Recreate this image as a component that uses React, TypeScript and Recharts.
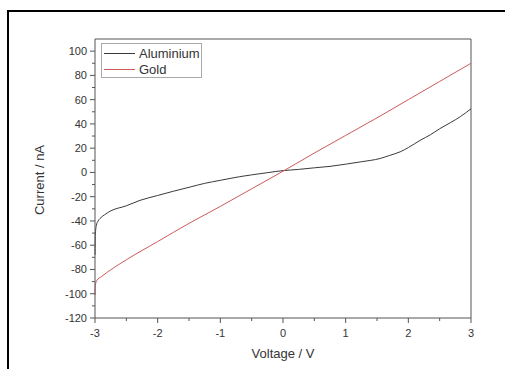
import React from "react";
import { LineChart, Line, XAxis, YAxis, ReferenceLine } from "recharts";

// I-V curves
const aluminium = [
  { v: -3.0, i: -68 },
  { v: -2.995, i: -52 },
  { v: -2.98, i: -44 },
  { v: -2.95, i: -40 },
  { v: -2.92, i: -38 },
  { v: -2.85, i: -35 },
  { v: -2.76, i: -32 },
  { v: -2.5, i: -27.5 },
  { v: -2.28, i: -23 },
  { v: -2.0, i: -19 },
  { v: -1.75, i: -15.5 },
  { v: -1.48, i: -12 },
  { v: -1.25, i: -9 },
  { v: -1.0, i: -6.5 },
  { v: -0.69, i: -3.5 },
  { v: -0.5, i: -2 },
  { v: -0.25, i: -0.2 },
  { v: 0.0, i: 1.5 },
  { v: 0.25, i: 2.5 },
  { v: 0.5, i: 3.8 },
  { v: 0.75, i: 5 },
  { v: 1.0, i: 6.8 },
  { v: 1.25, i: 8.8 },
  { v: 1.55, i: 11.5 },
  { v: 1.7, i: 14 },
  { v: 1.87, i: 17 },
  { v: 2.0, i: 20.5 },
  { v: 2.19, i: 26.5 },
  { v: 2.35, i: 31 },
  { v: 2.5, i: 36 },
  { v: 2.67, i: 41 },
  { v: 2.83, i: 46 },
  { v: 3.0, i: 52.5 },
];

const gold = [
  { v: -3.0, i: -101 },
  { v: -2.995, i: -93 },
  { v: -2.97, i: -89 },
  { v: -2.9, i: -86 },
  { v: -2.5, i: -72 },
  { v: -2.0, i: -57 },
  { v: -1.5, i: -42 },
  { v: -1.0, i: -28 },
  { v: -0.5, i: -13.5 },
  { v: 0.0, i: 1 },
  { v: 0.5, i: 16 },
  { v: 1.0, i: 30.5 },
  { v: 1.5, i: 45 },
  { v: 2.0, i: 60 },
  { v: 2.5, i: 75 },
  { v: 3.0, i: 90 },
];

const xTicks = [-3, -2.5, -2, -1.5, -1, -0.5, 0, 0.5, 1, 1.5, 2, 2.5, 3];
const yTicks = [
  -120, -110, -100, -90, -80, -70, -60, -50, -40, -30, -20, -10, 0, 10, 20, 30,
  40, 50, 60, 70, 80, 90, 100,
];
const xLabels = [-3, -2, -1, 0, 1, 2, 3];
const yLabels = [-120, -100, -80, -60, -40, -20, 0, 20, 40, 60, 80, 100];

const series = [
  { name: "Aluminium", color: "#3a3a3a", data: aluminium },
  { name: "Gold", color: "#cf5a5a", data: gold },
];

const axisColor = "#555";
const textColor = "#333";
const font = "'Liberation Sans', Arial, sans-serif";

function XTick(props: any) {
  const { x, y, payload } = props;
  const major = xLabels.includes(payload.value);
  return (
    <g>
      <line x1={x} y1={y} x2={x} y2={y + (major ? 5 : 3)} stroke={axisColor} />
      {major && (
        <text x={x} y={y + 19} textAnchor="middle" fontSize={11} fill={textColor} fontFamily={font}>
          {payload.value}
        </text>
      )}
    </g>
  );
}

function YTick(props: any) {
  const { x, y, payload } = props;
  const major = yLabels.includes(payload.value);
  return (
    <g>
      <line x1={x} y1={y} x2={x - (major ? 5 : 3)} y2={y} stroke={axisColor} />
      {major && (
        <text x={x - 8} y={y + 4} textAnchor="end" fontSize={11} fill={textColor} fontFamily={font}>
          {payload.value}
        </text>
      )}
    </g>
  );
}

function LegendBox() {
  return (
    <div
      style={{
        position: "absolute",
        left: 101,
        top: 43,
        border: "1px solid #aaa",
        width: 101,
        height: 35,
        padding: "1px 0 0 2px",
        boxSizing: "border-box",
        background: "#fff",
        fontFamily: font,
        fontSize: 13,
        color: textColor,
      }}
    >
      {series.map((s) => (
        <div key={s.name} style={{ display: "flex", alignItems: "center", height: 16 }}>
          <span style={{ width: 31, height: 1, background: s.color, marginRight: 4 }} />
          {s.name}
        </div>
      ))}
    </div>
  );
}

export default function App() {
  return (
    <div style={{ position: "absolute", left: 0, top: 0, width: 505, height: 369, background: "#fff" }}>
      <div
        style={{
          position: "absolute",
          left: 7,
          top: 10,
          width: 498,
          height: 359,
          borderTop: "2px solid #000",
          borderLeft: "2px solid #000",
          boxSizing: "border-box",
        }}
      />
      <div style={{ position: "absolute", left: 0, top: 0 }}>
        <LineChart width={505} height={369} margin={{ top: 39, right: 34, left: 0, bottom: 0 }}>
          <XAxis
            type="number"
            dataKey="v"
            domain={[-3, 3]}
            ticks={xTicks}
            interval={0}
            height={51}
            tickSize={0}
            tickMargin={0}
            tickLine={false}
            tick={<XTick />}
            axisLine={{ stroke: axisColor }}
            allowDuplicatedCategory={false}
          />
          <YAxis
            type="number"
            dataKey="i"
            domain={[-120, 110]}
            ticks={yTicks}
            interval={0}
            width={95}
            tickSize={0}
            tickMargin={0}
            tickLine={false}
            tick={<YTick />}
            axisLine={{ stroke: axisColor }}
            allowDataOverflow
          />
          <ReferenceLine x={3} stroke={axisColor} />
          <ReferenceLine y={110} stroke={axisColor} />
          {series.map((s) => (
            <Line
              key={s.name}
              data={s.data}
              dataKey="i"
              name={s.name}
              type="monotone"
              stroke={s.color}
              strokeWidth={1}
              dot={false}
              isAnimationActive={false}
            />
          ))}
        </LineChart>
      </div>
      <LegendBox />
      <div
        style={{
          position: "absolute",
          left: 39,
          top: 180,
          transform: "translate(-50%, -50%) rotate(-90deg)",
          whiteSpace: "nowrap",
          fontFamily: font,
          fontSize: 13,
          color: textColor,
        }}
      >
        Current / nA
      </div>
      <div
        style={{
          position: "absolute",
          left: 283,
          top: 353,
          transform: "translate(-50%, -50%)",
          whiteSpace: "nowrap",
          fontFamily: font,
          fontSize: 13,
          color: textColor,
        }}
      >
        Voltage / V
      </div>
    </div>
  );
}
